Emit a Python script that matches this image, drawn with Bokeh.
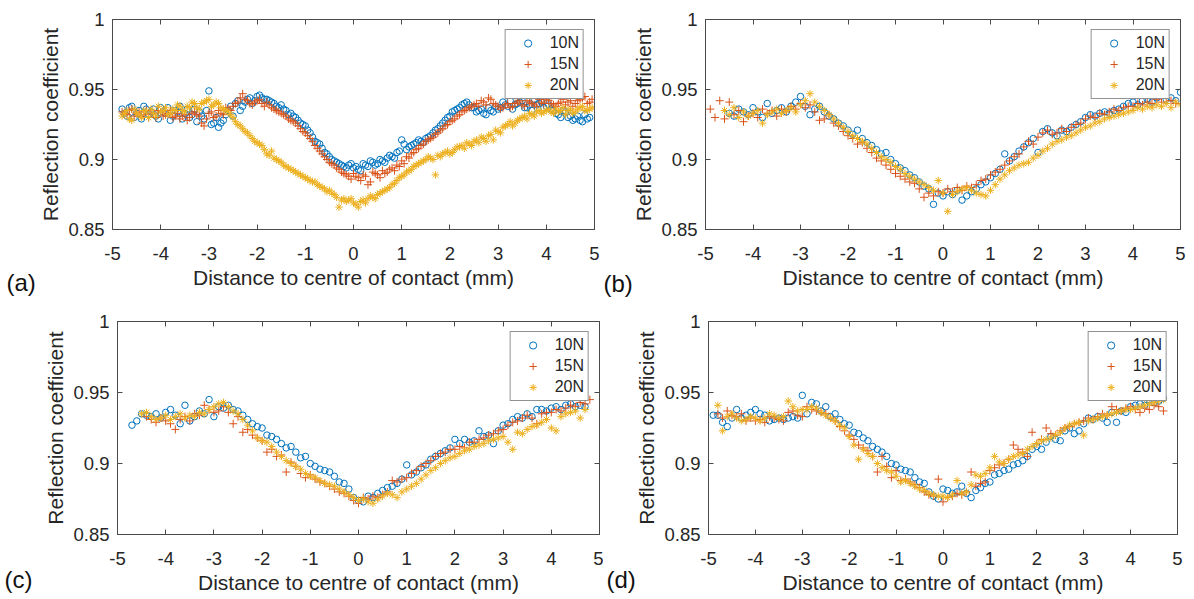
from bokeh.plotting import figure
from bokeh.models import Range1d, FixedTicker, PrintfTickFormatter, LinearAxis, Label, CustomJSTickFormatter
from bokeh.layouts import column, row
from bokeh.embed import file_html
from bokeh.resources import INLINE

# ---------------- data ----------------
# sample positions along the scan (mm)
XG = [-4.9, -4.8, -4.7, -4.6, -4.5, -4.4, -4.3, -4.2, -4.1, -4.0,
      -3.9, -3.8, -3.7, -3.6, -3.5, -3.4, -3.3, -3.2, -3.1, -3.0,
      -2.9, -2.8, -2.7, -2.6, -2.5, -2.4, -2.3, -2.2, -2.1, -2.0,
      -1.9, -1.8, -1.7, -1.6, -1.5, -1.4, -1.3, -1.2, -1.1, -1.0,
      -0.9, -0.8, -0.7, -0.6, -0.5, -0.4, -0.3, -0.2, -0.1, 0.0,
      0.1, 0.2, 0.3, 0.4, 0.5, 0.6, 0.7, 0.8, 0.9, 1.0,
      1.1, 1.2, 1.3, 1.4, 1.5, 1.6, 1.7, 1.8, 1.9, 2.0,
      2.1, 2.2, 2.3, 2.4, 2.5, 2.6, 2.7, 2.8, 2.9, 3.0,
      3.1, 3.2, 3.3, 3.4, 3.5, 3.6, 3.7, 3.8, 3.9, 4.0,
      4.1, 4.2, 4.3, 4.4, 4.5, 4.6, 4.7, 4.8, 4.9, 5.0]
# intermediate positions (panel (a) was sampled more finely)
XH = [-4.85, -4.75, -4.65, -4.55, -4.45, -4.35, -4.25, -4.15, -4.05, -3.95,
      -3.85, -3.75, -3.65, -3.55, -3.45, -3.35, -3.25, -3.15, -3.05, -2.95,
      -2.85, -2.75, -2.65, -2.55, -2.45, -2.35, -2.25, -2.15, -2.05, -1.95,
      -1.85, -1.75, -1.65, -1.55, -1.45, -1.35, -1.25, -1.15, -1.05, -0.95,
      -0.85, -0.75, -0.65, -0.55, -0.45, -0.35, -0.25, -0.15, -0.05, 0.05,
      0.15, 0.25, 0.35, 0.45, 0.55, 0.65, 0.75, 0.85, 0.95, 1.05,
      1.15, 1.25, 1.35, 1.45, 1.55, 1.65, 1.75, 1.85, 1.95, 2.05,
      2.15, 2.25, 2.35, 2.45, 2.55, 2.65, 2.75, 2.85, 2.95, 3.05,
      3.15, 3.25, 3.35, 3.45, 3.55, 3.65, 3.75, 3.85, 3.95, 4.05,
      4.15, 4.25, 4.35, 4.45, 4.55, 4.65, 4.75, 4.85, 4.95]

LABELS = ["10N", "15N", "20N"]
XTICKS = [-5, -4, -3, -2, -1, 0, 1, 2, 3, 4, 5]
YTICKS = [0.85, 0.9, 0.95, 1.0]
PANEL_TAGS = ["(a)", "(b)", "(c)", "(d)"]
XLABEL = "Distance to centre of contact (mm)"
YLABEL = "Reflection coefficient"

# panel (a): first x index, values
A_10N_START = 1
A_10N = [.936, .931, .938, .933, .929, .936, .934, .931, .937, .933,
         .928, .935, .938, .933, .930, .936, .934, .929, .949, .926,
         .923, .928, .935, .931, .942, .938, .943, .940, .945, .944,
         .943, .941, .938, .939, .935, .933, .930, .926, .924, .919,
         .913, .911, .905, .902, .899, .897, .895, .896, .894, .893,
         .897, .895, .898, .897, .899, .901, .902, .905, .914, .907,
         .910, .912, .913, .915, .917, .921, .924, .928, .931, .935,
         .937, .940, .939, .937, .935, .933, .937, .934, .936, .941,
         .938, .936, .940, .942, .937, .935, .939, .941, .938, .936,
         .933, .930, .934, .931, .929, .928, .932, .930]
A_10N_H_START = 1
A_10N_H = [.933, .937, .930, .935, .938, .932, .936, .929, .934, .937,
           .931, .934, .929, .936, .932, .927, .931, .935, .925, .930,
           .926, .932, .938, .940, .935, .941, .944, .942, .946, .943,
           .942, .940, .937, .936, .932, .931, .928, .925, .921, .916,
           .912, .908, .904, .900, .898, .896, .894, .897, .895, .892,
           .896, .899, .896, .900, .898, .903, .901, .906, .911, .909,
           .911, .914, .912, .916, .919, .922, .926, .930, .934, .936,
           .939, .941, .937, .934, .936, .932, .935, .938, .937, .939,
           .942, .939, .941, .937, .939, .943, .940, .937, .939, .935,
           .932, .935, .930, .928, .931, .927, .929]
A_15N_START = 1
A_15N = [.934, .932, .936, .933, .931, .935, .933, .930, .934, .932,
         .935, .931, .929, .932, .930, .934, .931, .924, .933, .930,
         .935, .932, .936, .938, .941, .947, .942, .939, .942, .940,
         .941, .937, .935, .933, .931, .928, .926, .922, .919, .915,
         .910, .906, .902, .898, .896, .893, .890, .888, .890, .887,
         .889, .882, .891, .889, .892, .891, .894, .896, .899, .902,
         .904, .907, .910, .913, .915, .918, .921, .924, .927, .929,
         .932, .935, .937, .939, .938, .941, .944, .940, .938, .937,
         .940, .938, .941, .939, .942, .940, .938, .941, .943, .940,
         .938, .941, .939, .942, .940, .943, .945, .941]
A_15N_H_START = 1
A_15N_H = [.933, .935, .931, .934, .932, .930, .933, .935, .931, .933,
           .930, .933, .931, .928, .933, .932, .926, .929, .934, .931,
           .933, .937, .935, .940, .944, .943, .940, .941, .943, .938,
           .939, .936, .934, .932, .929, .927, .924, .920, .917, .913,
           .908, .904, .900, .897, .894, .891, .889, .886, .888, .885,
           .888, .884, .890, .887, .890, .893, .892, .895, .897, .901,
           .905, .908, .911, .914, .916, .919, .922, .925, .928, .931,
           .934, .936, .938, .940, .942, .939, .943, .939, .936, .939,
           .937, .940, .942, .938, .941, .939, .943, .940, .942, .939,
           .940, .943, .941, .938, .942, .944, .940, .943]
A_20N_START = 1
A_20N = [.931, .935, .928, .933, .930, .934, .936, .931, .934, .937,
         .933, .935, .938, .934, .937, .940, .936, .941, .943, .939,
         .940, .936, .934, .930, .925, .922, .919, .915, .912, .910,
         .904, .906, .900, .898, .895, .893, .891, .889, .887, .885,
         .884, .881, .879, .878, .875, .866, .872, .871, .869, .866,
         .871, .872, .873, .875, .877, .879, .882, .885, .888, .891,
         .893, .896, .898, .900, .901, .889, .902, .905, .904, .907,
         .909, .908, .911, .913, .912, .915, .917, .914, .920, .923,
         .925, .924, .928, .930, .929, .932, .934, .933, .935, .934,
         .936, .935, .932, .936, .934, .937, .935, .936]
A_20N_H_START = 1
A_20N_H = [.933, .929, .936, .932, .935, .930, .933, .938, .935, .932,
           .936, .939, .935, .938, .941, .937, .940, .942, .938, .941,
           .937, .935, .932, .927, .924, .920, .917, .913, .911, .907,
           .903, .901, .899, .896, .894, .892, .890, .888, .886, .884,
           .882, .880, .877, .876, .873, .871, .870, .872, .868, .870,
           .869, .874, .872, .876, .878, .880, .883, .887, .889, .892,
           .895, .897, .899, .902, .900, .903, .904, .906, .905, .909,
           .910, .912, .910, .914, .916, .913, .918, .921, .919, .924,
           .927, .926, .929, .931, .933, .931, .935, .934, .936, .933,
           .934, .937, .935, .933, .936, .938, .935, .937]

# panel (b)
B_10N_START = 4
B_10N = [.933, .931, .936, .934, .932, .937, .934, .930, .940, .933,
         .935, .937, .934, .938, .941, .945, .938, .932, .936, .938,
         .934, .931, .929, .926, .924, .921, .918, .921, .915, .912,
         .910, .907, .904, .905, .900, .897, .894, .892, .889, .887,
         .884, .881, .879, .868, .876, .874, .877, .875, .878, .871,
         .874, .877, .879, .882, .884, .887, .890, .893, .904, .899,
         .902, .906, .909, .912, .915, .905, .920, .922, .919, .917,
         .921, .920, .923, .925, .927, .930, .932, .931, .933, .934,
         .933, .935, .936, .938, .940, .941, .939, .942, .943, .941,
         .944, .946, .943, .944, .942, .948]
B_15N_START = 0
B_15N = [.936, .930, .942, .929, .941, .932, .935, .927, .931, .933,
         .930, .936, .933, .935, .931, .936, .934, .938, .936, .940,
         .937, .939, .934, .928, .929, .932, .926, .924, .920, .917,
         .915, .911, .912, .908, .905, .901, .899, .896, .893, .890,
         .888, .886, .884, .883, .879, .873, .876, .874, .877, .876,
         .879, .877, .880, .878, .881, .880, .882, .885, .886, .889,
         .891, .893, .896, .899, .902, .904, .909, .913, .911, .916,
         .919, .921, .918, .919, .922, .920, .923, .925, .926, .929,
         .931, .930, .933, .932, .934, .936, .935, .937, .938, .938,
         .940, .939, .941, .940, .943, .941, .944, .942, .940]
B_20N_START = 3
B_20N = [.935, .932, .937, .930, .934, .931, .933, .935, .926, .932,
         .934, .936, .933, .935, .937, .934, .939, .942, .947, .941,
         .938, .935, .932, .929, .926, .923, .920, .917, .915, .913,
         .911, .908, .905, .902, .900, .898, .895, .893, .890, .888,
         .886, .884, .882, .880, .878, .885, .876, .863, .875, .877,
         .879, .880, .878, .876, .875, .874, .878, .882, .886, .889,
         .892, .894, .896, .897, .898, .901, .903, .906, .908, .911,
         .913, .914, .916, .917, .919, .921, .923, .924, .926, .927,
         .929, .930, .931, .932, .933, .934, .935, .937, .936, .938,
         .937, .939, .938, .940, .937, .941, .939]

# panel (c)
C_10N_START = 2
C_10N = [.927, .930, .935, .934, .933, .935, .932, .936, .938, .934,
         .928, .941, .930, .933, .937, .935, .945, .933, .940, .939,
         .941, .938, .937, .934, .931, .928, .926, .925, .920, .919,
         .917, .914, .911, .912, .908, .904, .905, .900, .898, .896,
         .895, .894, .891, .887, .886, .882, .876, .874, .873, .877,
         .876, .879, .881, .883, .884, .886, .889, .899, .892, .894,
         .897, .899, .903, .905, .907, .909, .911, .917, .914, .917,
         .915, .916, .923, .919, .920, .914, .923, .927, .928, .931,
         .933, .932, .935, .933, .938, .938, .937, .939, .940, .938,
         .941, .942, .940, .941, .940]
C_15N_START = 5
C_15N = [.933, .931, .929, .932, .930, .928, .924, .931, .933, .930,
         .935, .934, .941, .938, .936, .937, .940, .936, .928, .933,
         .922, .924, .920, .918, .916, .908, .910, .905, .906, .894,
         .901, .898, .893, .890, .892, .889, .887, .886, .884, .882,
         .880, .879, .877, .874, .872, .876, .875, .877, .876, .878,
         .880, .888, .887, .889, .890, .893, .895, .898, .900, .902,
         .905, .907, .908, .910, .910, .912, .911, .915, .915, .917,
         .918, .920, .921, .923, .924, .927, .929, .930, .932, .934,
         .932, .928, .935, .936, .936, .938, .937, .939, .941, .940,
         .943, .942, .945]
C_20N_START = 4
C_20N = [.935, .936, .933, .931, .932, .934, .931, .933, .935, .932,
         .934, .933, .936, .935, .938, .940, .942, .943, .940, .937,
         .935, .931, .927, .923, .918, .916, .915, .912, .908, .905,
         .902, .900, .898, .896, .893, .891, .890, .888, .886, .885,
         .884, .882, .880, .878, .876, .874, .875, .873, .872, .875,
         .877, .879, .878, .876, .880, .882, .884, .886, .889, .892,
         .895, .897, .900, .902, .904, .905, .907, .909, .910, .912,
         .913, .914, .916, .917, .918, .919, .915, .910, .922, .921,
         .924, .926, .927, .929, .931, .925, .923, .933, .935, .936,
         .937, .932, .938]

# panel (d)
D_10N_START = 0
D_10N = [.934, .934, .929, .926, .932, .938, .932, .934, .936, .938,
         .935, .934, .930, .931, .932, .931, .932, .933, .932, .948,
         .935, .943, .942, .937, .940, .933, .935, .931, .928, .927,
         .922, .921, .918, .916, .912, .910, .908, .905, .900, .899,
         .896, .895, .894, .890, .887, .886, .880, .877, .875, .882,
         .881, .879, .880, .884, .879, .876, .881, .883, .886, .887,
         .892, .893, .895, .896, .899, .900, .902, .905, .910, .912,
         .910, .915, .919, .917, .916, .923, .925, .921, .923, .928,
         .932, .931, .933, .932, .929, .936, .929, .937, .936, .940,
         .941, .942, .941, .945, .943, .944, .946]
D_15N_START = 1
D_15N = [.935, .932, .937, .934, .933, .935, .930, .932, .930, .931,
         .929, .933, .932, .931, .930, .936, .937, .934, .933, .940,
         .938, .937, .936, .935, .932, .930, .926, .923, .920, .917,
         .913, .911, .909, .905, .894, .905, .898, .890, .895, .888,
         .889, .887, .885, .883, .880, .878, .877, .889, .873, .876,
         .877, .879, .878, .880, .894, .884, .886, .887, .895, .897,
         .899, .900, .903, .913, .910, .908, .905, .922, .914, .917,
         .925, .921, .920, .923, .925, .926, .928, .929, .930, .932,
         .931, .933, .935, .934, .940, .938, .937, .939, .940, .938,
         .936, .939, .938, .941, .940, .937]
D_20N_START = 1
D_20N = [.941, .923, .933, .935, .932, .930, .931, .933, .932, .930,
         .932, .935, .934, .932, .933, .944, .940, .937, .938, .938,
         .940, .939, .936, .934, .932, .930, .927, .925, .919, .913,
         .903, .910, .907, .905, .900, .897, .895, .894, .891, .887,
         .888, .886, .884, .882, .881, .879, .878, .877, .877, .876,
         .878, .888, .879, .880, .885, .892, .891, .893, .897, .905,
         .901, .900, .903, .905, .906, .907, .910, .912, .914, .916,
         .917, .918, .920, .922, .925, .927, .928, .929, .920, .930,
         .931, .932, .933, .934, .935, .936, .937, .938, .938, .939,
         .940, .941, .942, .943, .944, .945]

# each series: list of (x grid, first index, values)
PANELS = [
    [[(XG, A_10N_START, A_10N), (XH, A_10N_H_START, A_10N_H)],
     [(XG, A_15N_START, A_15N), (XH, A_15N_H_START, A_15N_H)],
     [(XG, A_20N_START, A_20N), (XH, A_20N_H_START, A_20N_H)]],
    [[(XG, B_10N_START, B_10N)], [(XG, B_15N_START, B_15N)], [(XG, B_20N_START, B_20N)]],
    [[(XG, C_10N_START, C_10N)], [(XG, C_15N_START, C_15N)], [(XG, C_20N_START, C_20N)]],
    [[(XG, D_10N_START, D_10N)], [(XG, D_15N_START, D_15N)], [(XG, D_20N_START, D_20N)]],
]

# ---------------- style ----------------
FONT = "Liberation Sans"
AXC = "#4a4a4a"
TXT = "#262626"
COLORS = ["#0072BD", "#D95319", "#EDB120"]
MARKERS = ["circle", "cross", "asterisk"]
SIZES = [6.5, 8, 7.5]


def style_axis(ax, labels=True):
    ax.axis_line_color = AXC
    ax.major_tick_line_color = AXC
    ax.major_tick_in = 5
    ax.major_tick_out = 0
    ax.minor_tick_line_color = None
    if labels:
        ax.major_label_text_font = FONT
        ax.major_label_text_font_size = "18.5px"
        ax.major_label_text_color = TXT
        ax.axis_label_text_font = FONT
        ax.axis_label_text_font_size = "21px"
        ax.axis_label_text_font_style = "normal"
        ax.axis_label_text_color = TXT
        ax.formatter = PrintfTickFormatter(format="%g")
    else:
        ax.major_label_text_font_size = "0px"
        ax.major_label_standoff = 0
        ax.formatter = CustomJSTickFormatter(code="return ''")


def make_panel(k, w, h, ml, mr, mt, mb, tag_x, tag_y):
    p = figure(width=w, height=h, min_border_left=ml, min_border_right=mr,
               min_border_top=mt, min_border_bottom=mb,
               x_range=Range1d(-5, 5), y_range=Range1d(0.85, 1.0),
               output_backend="svg", toolbar_location=None)
    p.xgrid.visible = False
    p.ygrid.visible = False
    p.outline_line_color = AXC
    p.background_fill_color = "white"
    p.border_fill_color = "white"

    xa = p.xaxis[0]
    ya = p.yaxis[0]
    xa.ticker = FixedTicker(ticks=XTICKS)
    ya.ticker = FixedTicker(ticks=YTICKS)
    style_axis(xa)
    style_axis(ya)
    xa.major_label_standoff = 17
    ya.major_label_standoff = 8
    xa.axis_label = XLABEL
    ya.axis_label = YLABEL
    xa.axis_label_standoff = 3
    ya.axis_label_standoff = 3

    top = LinearAxis(ticker=FixedTicker(ticks=XTICKS))
    right = LinearAxis(ticker=FixedTicker(ticks=YTICKS))
    style_axis(top, labels=False)
    style_axis(right, labels=False)
    p.add_layout(top, "above")
    p.add_layout(right, "right")

    for segs, lab, col, mk, sz in zip(PANELS[k], LABELS, COLORS, MARKERS, SIZES):
        xs, ys = [], []
        for grid, start, vals in segs:
            gx = grid[start:start + len(vals)]
            xs += gx
            ys += vals[:len(gx)]
        p.scatter(xs, ys, marker=mk, size=sz, line_color=col, fill_color=None,
                  line_width=1, legend_label=lab)

    lg = p.legend[0]
    lg.location = "top_right"
    lg.margin = 10
    lg.padding = 4
    lg.spacing = 3
    lg.glyph_width = 36
    lg.glyph_height = 18
    lg.label_height = 18
    lg.label_standoff = 4
    lg.label_text_font = FONT
    lg.label_text_font_size = "16px"
    lg.label_text_color = TXT
    lg.border_line_color = "#262626"
    lg.border_line_width = 1
    lg.background_fill_color = "white"
    lg.background_fill_alpha = 1.0

    p.add_layout(Label(x=tag_x, y=tag_y, x_units="canvas", y_units="canvas",
                       text=PANEL_TAGS[k], text_font=FONT, text_font_size="24px",
                       text_color="#111111", text_baseline="middle", text_align="left"),
                 "left")
    return p


pa = make_panel(0, 600, 300, 112, 6, 19, 69, 6, 282)
pb = make_panel(1, 592, 300, 104, 12, 16, 71, 3, 283)
pc = make_panel(2, 603, 298, 117, 4, 21, 61, 4, 279)
pd = make_panel(3, 589, 298, 102, 15, 21, 64, 3, 279)

layout = column(row(pa, pb), row(pc, pd))

open("out.html", "w").write(file_html(layout, INLINE))
